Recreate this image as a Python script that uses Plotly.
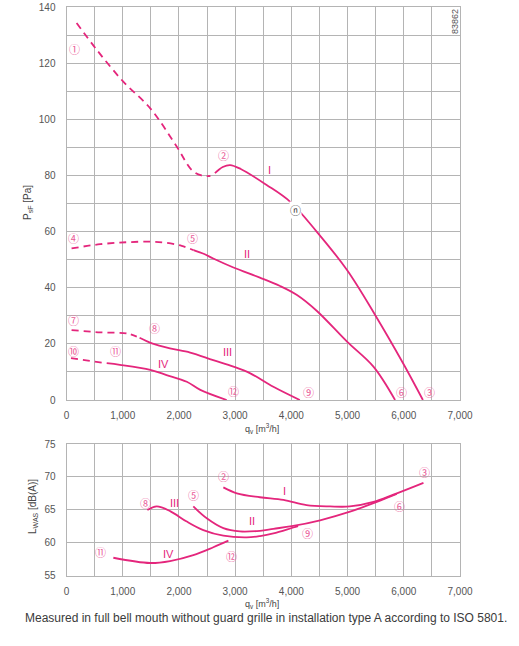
import plotly.graph_objects as go

PINK = "#e4267c"
LABEL_PINK = "#ea5a98"
GRID = "#b4b4b4"
TICKFONT = dict(family="Liberation Sans, Arial", size=10, color="#555555")

# Druckkurven (oben), gestrichelt = instabiler Bereich
p1_dash_x = [180, 540, 1010, 1490, 1960, 2230, 2400, 2560]
p1_dash_y = [134.3, 124.7, 113.4, 103.9, 90.3, 81.9, 80.0, 79.8]
p1_x = [2640, 2780, 2910, 3100, 3560, 3980, 4450, 4990, 5490, 5990, 6340]
p1_y = [80.8, 83.0, 83.7, 82.3, 76.6, 70.6, 60.0, 46.3, 30.3, 13.0, 0.0]

p2_dash_x = [90, 600, 1070, 1490, 1780, 2050, 2260]
p2_dash_y = [54.0, 55.5, 56.2, 56.4, 56.0, 54.9, 53.4]
p2_x = [2260, 2450, 2610, 2970, 3440, 3800, 4100, 4450, 4990, 5460, 5845]
p2_y = [53.4, 52.0, 50.4, 47.2, 43.6, 40.6, 37.4, 31.8, 20.8, 11.9, 0.0]

p3_dash_x = [90, 600, 1070, 1250]
p3_dash_y = [24.9, 24.1, 23.7, 22.6]
p3_x = [1300, 1520, 1840, 2200, 2610, 2970, 3270, 3680, 4150]
p3_y = [22.2, 20.2, 18.4, 16.9, 14.2, 11.9, 9.5, 4.7, 0.0]

p4_dash_x = [80, 640]
p4_dash_y = [14.9, 13.3]
p4_x = [715, 950, 1490, 1780, 2140, 2380, 2850]
p4_y = [13.1, 12.5, 10.7, 8.9, 6.5, 3.6, 0.0]

# Schallleistung (unten)
l1_x = [2790, 3030, 3440, 3860, 4270, 4690, 5040, 5460, 5815, 6350]
l1_y = [68.4, 67.5, 66.9, 66.5, 65.7, 65.5, 65.5, 66.2, 67.3, 69.1]
l2_x = [2256, 2495, 2790, 3087, 3443, 3680, 4007, 4511, 5044, 5520, 5875]
l2_y = [65.5, 63.7, 62.2, 61.7, 61.8, 62.1, 62.5, 63.4, 64.7, 66.2, 67.4]
l3_x = [1438, 1605, 1842, 2139, 2434, 2790, 3206, 3443, 3680, 4036, 4120]
l3_y = [64.95, 65.5, 64.8, 63.2, 61.9, 61.05, 60.8, 61.0, 61.4, 62.3, 62.5]
l4_x = [833, 1486, 1842, 2256, 2612, 2880]
l4_y = [57.7, 56.9, 57.2, 58.1, 59.3, 60.3]

# Beschriftungen
top_marks = ["①", "②", "③", "④", "⑤", "⑥", "⑦", "⑧", "⑨", "⑩", "⑪", "⑫"]
top_marks_x = [151, 2786, 6450, 116, 2233, 5952, 116, 1557, 4297, 116, 863, 2963]
top_marks_y = [125, 87.3, 2.8, 57.7, 57.7, 2.8, 28.5, 25.6, 2.8, 17.5, 17.5, 3.2]
top_roman = ["I", "II", "III", "IV"]
top_roman_x = [3609, 3212, 2856, 1717]
top_roman_y = [81.9, 52.0, 17.1, 12.8]

bot_marks = ["②", "③", "⑤", "⑥", "⑧", "⑨", "⑪", "⑫"]
bot_marks_x = [2790, 6367, 2256, 5922, 1409, 4292, 596, 2939]
bot_marks_y = [70.2, 70.8, 67.2, 65.5, 66.0, 61.4, 58.5, 58.0]
bot_roman = ["I", "II", "III", "IV"]
bot_roman_x = [3876, 3306, 1918, 1811]
bot_roman_y = [67.8, 63.3, 66.0, 58.2]

W, H = 519, 646

def fx(px):
    return px / W

def fy(py):
    return 1 - py / H

fig = go.Figure()

def add_line(x, y, xa, ya, dash=None):
    fig.add_trace(go.Scatter(x=x, y=y, mode="lines", xaxis=xa, yaxis=ya,
                             line=dict(color=PINK, width=1.8, shape="spline",
                                       smoothing=1.0, dash=dash or "solid"),
                             showlegend=False, hoverinfo="skip"))

for dx, dy in [(p1_dash_x, p1_dash_y), (p2_dash_x, p2_dash_y),
               (p3_dash_x, p3_dash_y), (p4_dash_x, p4_dash_y)]:
    add_line(dx, dy, "x", "y", dash="7px,5px")
for sx, sy in [(p1_x, p1_y), (p2_x, p2_y), (p3_x, p3_y), (p4_x, p4_y)]:
    add_line(sx, sy, "x", "y")
for sx, sy in [(l1_x, l1_y), (l2_x, l2_y), (l3_x, l3_y), (l4_x, l4_y)]:
    add_line(sx, sy, "x2", "y2")

ann = []
for t, x, y in zip(top_marks, top_marks_x, top_marks_y):
    ann.append(dict(x=x, y=y, xref="x", yref="y", text=t, showarrow=False,
                    font=dict(family="Noto Sans CJK JP", size=11, color=LABEL_PINK)))
for t, x, y in zip(top_roman, top_roman_x, top_roman_y):
    ann.append(dict(x=x, y=y, xref="x", yref="y", text=t, showarrow=False,
                    font=dict(family="Liberation Sans Narrow, Liberation Sans", size=11, color=PINK)))
for t, x, y in zip(bot_marks, bot_marks_x, bot_marks_y):
    ann.append(dict(x=x, y=y, xref="x2", yref="y2", text=t, showarrow=False,
                    font=dict(family="Noto Sans CJK JP", size=11, color=LABEL_PINK)))
for t, x, y in zip(bot_roman, bot_roman_x, bot_roman_y):
    ann.append(dict(x=x, y=y, xref="x2", yref="y2", text=t, showarrow=False,
                    font=dict(family="Liberation Sans Narrow, Liberation Sans", size=11, color=PINK)))

# Betriebspunkt
ann.append(dict(x=4078, y=67.7, xref="x", yref="y", text="ⓝ", showarrow=False,
                bgcolor="white", borderpad=0,
                font=dict(family="Noto Sans CJK JP", size=11, color="#333333")))

# Achsentitel und Texte (Pixelpositionen aus der Vorlage)
def paper_text(px, py, text, size, color="#444444", angle=0):
    return dict(x=fx(px), y=fy(py), xref="paper", yref="paper",
                xanchor="center", yanchor="middle", textangle=angle,
                text=text, showarrow=False,
                font=dict(family="Liberation Sans", size=size, color=color))

ann += [
    paper_text(28, 203, "P<sub>sF</sub> [Pa]", 10, angle=-90),
    paper_text(33, 507, "L<sub>WAS</sub> [dB(A)]", 10, angle=-90),
    paper_text(262, 428, "q<sub>v</sub> [m<sup>3</sup>/h]", 9),
    paper_text(262, 603, "q<sub>v</sub> [m<sup>3</sup>/h]", 9),
    paper_text(266, 618, "Measured in full bell mouth without guard grille in installation type A according to ISO 5801.",
               12, color="#3a3a3a"),
    paper_text(455, 22, "83862", 9, color="#555555", angle=-90),
]

xdom = [fx(66.5), fx(460)]
axis_common = dict(showgrid=True, gridcolor=GRID, gridwidth=1, zeroline=False,
                   showline=True, mirror=True, linecolor=GRID, linewidth=1,
                   ticks="", tickfont=TICKFONT, automargin=False)

fig.update_layout(
    width=W, height=H,
    margin=dict(l=0, r=0, t=0, b=0),
    paper_bgcolor="white", plot_bgcolor="white",
    showlegend=False,
    separators=".,",
    xaxis=dict(domain=xdom, range=[0, 7000], dtick=1000, tickformat=",d",
               minor=dict(dtick=500, showgrid=True, gridcolor=GRID),
               anchor="y", ticklabelstandoff=6, **axis_common),
    yaxis=dict(domain=[fy(400), fy(7)], range=[0, 140], dtick=20,
               minor=dict(dtick=10, showgrid=True, gridcolor=GRID),
               anchor="x", ticklabelstandoff=8, **axis_common),
    xaxis2=dict(domain=xdom, range=[0, 7000], dtick=1000, tickformat=",d",
                minor=dict(dtick=500, showgrid=True, gridcolor=GRID),
                anchor="y2", ticklabelstandoff=6, **axis_common),
    yaxis2=dict(domain=[fy(575.5), fy(444)], range=[55, 75], dtick=5,
                anchor="x2", ticklabelstandoff=8, **axis_common),
    annotations=ann,
)

# Browser-Standardrand (8px) entfernen, damit die Figur bündig sitzt
fig.write_html("out.html", config={"displayModeBar": False},
               post_script="document.body.style.margin='0px';")
